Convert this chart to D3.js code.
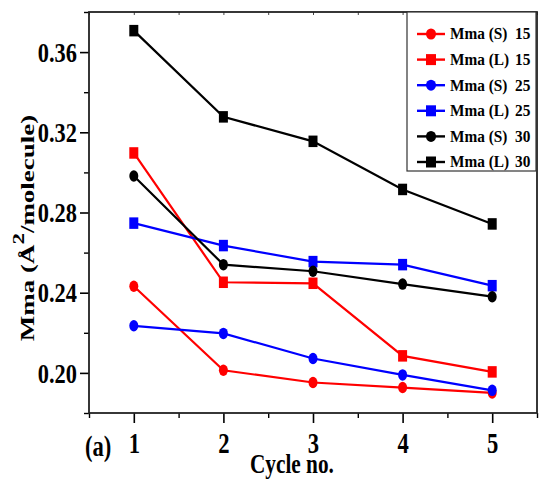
<!DOCTYPE html>
<html>
<head>
<meta charset="utf-8">
<script src="https://cdn.jsdelivr.net/npm/d3@7"></script>
<style>
  html, body { margin: 0; padding: 0; background: #fff; }
  svg { display: block; }
  text { font-family: "Liberation Serif", "Times New Roman", serif; font-weight: bold; fill: #000; }
</style>
</head>
<body>
<svg id="chart" width="539" height="479"></svg>
<script>
// Mean molecular area per cycle for each film
const cycles = [1, 2, 3, 4, 5];
const mmaS15 = [0.2432, 0.2013, 0.1952, 0.1927, 0.1900];
const mmaL15 = [0.3097, 0.2452, 0.2447, 0.2085, 0.2005];
const mmaS25 = [0.2235, 0.2197, 0.2072, 0.1990, 0.1913];
const mmaL25 = [0.2747, 0.2635, 0.2555, 0.2540, 0.2435];
const mmaS30 = [0.2982, 0.2540, 0.2507, 0.2443, 0.2380];
const mmaL30 = [0.3707, 0.3277, 0.3155, 0.2915, 0.2743];

const seriesNames = ["Mma (S)", "Mma (L)", "Mma (S)", "Mma (L)", "Mma (S)", "Mma (L)"];
const seriesTags = ["15", "15", "25", "25", "30", "30"];
const seriesValues = [mmaS15, mmaL15, mmaS25, mmaL25, mmaS30, mmaL30];
const seriesColors = ["#ff0000", "#ff0000", "#0000ff", "#0000ff", "#000000", "#000000"];
const seriesShapes = ["circle", "square", "circle", "square", "circle", "square"];

const xTicks = [1, 2, 3, 4, 5];
const xMinor = [0.5, 1.5, 2.5, 3.5, 4.5, 5.5];
const yTicks = [0.20, 0.24, 0.28, 0.32, 0.36];
const yMinor = [0.18, 0.22, 0.26, 0.30, 0.34, 0.38];

const svg = d3.select("#chart");
const plotL = 89, plotR = 537, plotT = 12, plotB = 413;

const x = d3.scaleLinear().domain([0.5, 5.5]).range([plotL, plotR]);
const y = d3.scaleLinear().domain([0.18, 0.38]).range([plotB, plotT]);

const SQ = 0.78; // horizontal condensing of the big labels

// bottom axis
const gx = svg.append("g").attr("transform", `translate(0,${plotB})`)
  .call(d3.axisBottom(x).tickValues(xTicks).tickSize(10).tickFormat(d3.format("d")));
gx.select(".domain").remove();
gx.selectAll(".tick line").attr("stroke", "#000").attr("stroke-width", 1.6);
gx.selectAll(".tick text")
  .attr("y", 40).attr("dy", 0)
  .attr("font-size", 29)
  .attr("transform", `scale(${SQ},1)`);
const gxm = svg.append("g").attr("transform", `translate(0,${plotB})`)
  .call(d3.axisBottom(x).tickValues(xMinor).tickSize(5).tickFormat(""));
gxm.select(".domain").remove();
gxm.selectAll(".tick line").attr("stroke", "#000").attr("stroke-width", 1.4);

// top axis: short inward ticks
const gt = svg.append("g").attr("transform", `translate(0,${plotT})`)
  .call(d3.axisBottom(x).tickValues(xTicks.concat(xMinor)).tickSize(3).tickFormat(""));
gt.select(".domain").remove();
gt.selectAll(".tick line").attr("stroke", "#444").attr("stroke-width", 1);

// left axis
const gy = svg.append("g").attr("transform", `translate(${plotL},0)`)
  .call(d3.axisLeft(y).tickValues(yTicks).tickSize(9).tickFormat(d3.format(".2f")));
gy.select(".domain").remove();
gy.selectAll(".tick line").attr("stroke", "#000").attr("stroke-width", 1.6);
gy.selectAll(".tick text")
  .attr("x", -12 / 0.8).attr("dy", "0.33em")
  .attr("font-size", 28)
  .attr("transform", "scale(0.8,1)");
const gym = svg.append("g").attr("transform", `translate(${plotL},0)`)
  .call(d3.axisLeft(y).tickValues(yMinor).tickSize(5).tickFormat(""));
gym.select(".domain").remove();
gym.selectAll(".tick line").attr("stroke", "#000").attr("stroke-width", 1.4);

// frame
svg.append("rect")
  .attr("x", plotL).attr("y", plotT)
  .attr("width", plotR - plotL).attr("height", plotB - plotT)
  .attr("fill", "none").attr("stroke", "#222").attr("stroke-width", 1.8);

// series lines and markers
const line = d3.line().x((d, i) => x(cycles[i])).y(d => y(d));

function marker(g, shape, color, cx, cy, w, h) {
  if (shape === "circle") {
    g.append("ellipse").attr("cx", cx).attr("cy", cy).attr("rx", w / 2).attr("ry", h / 2)
      .attr("fill", color);
  } else {
    g.append("rect").attr("x", cx - w / 2).attr("y", cy - h / 2).attr("width", w).attr("height", h)
      .attr("fill", color);
  }
}

seriesValues.forEach((vals, k) => {
  const g = svg.append("g");
  g.append("path").datum(vals).attr("d", line)
    .attr("fill", "none").attr("stroke", seriesColors[k]).attr("stroke-width", 2.2);
  vals.forEach((v, i) => marker(g, seriesShapes[k], seriesColors[k], x(cycles[i]), y(v), 9, 11.5));
});

// legend
const lg = svg.append("g");
lg.append("rect").attr("x", 407).attr("y", plotT).attr("width", 129).attr("height", 159)
  .attr("fill", "#fff").attr("stroke", "#333").attr("stroke-width", 1.2);
seriesNames.forEach((name, k) => {
  const cy = 34 + k * 25.6;
  lg.append("line").attr("x1", 417).attr("x2", 445).attr("y1", cy).attr("y2", cy)
    .attr("stroke", seriesColors[k]).attr("stroke-width", 2.4);
  marker(lg, seriesShapes[k], seriesColors[k], 431, cy, 10, 11);
  lg.append("text").attr("x", 450 / 0.93).attr("y", cy + 5.5).attr("font-size", 16.5)
    .attr("transform", "scale(0.93,1)").text(name);
  lg.append("text").attr("x", 515 / 0.93).attr("y", cy + 5.5).attr("font-size", 16.5)
    .attr("transform", "scale(0.93,1)").text(seriesTags[k]);
});

// axis titles
svg.append("text")
  .attr("transform", `translate(250,473) scale(0.76,1)`)
  .attr("font-size", 28).text("Cycle no.");
svg.append("text")
  .attr("transform", `translate(85,456) scale(0.78,1)`)
  .attr("font-size", 29).text("(a)");

const yt = svg.append("text")
  .attr("transform", `translate(34,228) scale(0.72,1) rotate(-90)`)
  .attr("text-anchor", "middle").attr("font-size", 27);
yt.append("tspan").text("Mma (Å");
yt.append("tspan").attr("font-size", 23).attr("dy", -14).text("2");
yt.append("tspan").attr("dy", 14).text("/molecule)");
</script>
</body>
</html>
